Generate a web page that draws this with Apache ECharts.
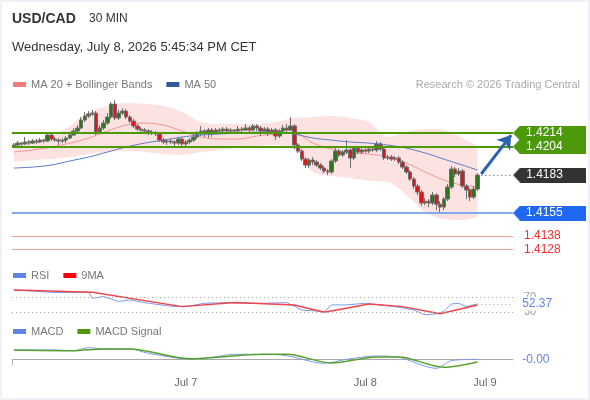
<!DOCTYPE html>
<html>
<head>
<meta charset="utf-8">
<title>USD/CAD 30 MIN</title>
<script src="https://cdn.jsdelivr.net/npm/echarts@6/dist/echarts.min.js"></script>
<style>
  html, body { margin: 0; padding: 0; background: #fff; }
  #chart { position: absolute; left: 0; top: 0; width: 590px; height: 400px; }
  #frame { position: absolute; left: 0; top: 0; width: 586px; height: 396px; border: 2px solid #eef1f5; pointer-events: none; }
</style>
</head>
<body>
<div id="chart"></div>
<div id="frame"></div>
<script>
'use strict';

// x slots (30 min candles + empty room on the right)
const slotCount = 134;
const dayLabels = ['Jul 7', 'Jul 8', 'Jul 9'];
const dayLabelIndex = [46, 94, 126];

// candles: open of each bar = previous close
const firstOpen = 1.42044;
const closes = [
  1.42052,1.42066,1.42059,1.42074,1.42066,1.42081,1.42074,1.42088,1.42081,1.42125,
  1.42096,1.42088,1.42081,1.42088,1.42103,1.42125,1.42155,1.42177,1.42236,1.42265,
  1.42280,1.42287,1.42147,1.42177,1.42214,1.42258,1.42354,1.42251,1.42287,1.42302,
  1.42258,1.42228,1.42192,1.42169,1.42162,1.42155,1.42147,1.42140,1.42133,1.42088,
  1.42074,1.42081,1.42074,1.42066,1.42096,1.42059,1.42074,1.42088,1.42111,1.42133,
  1.42155,1.42140,1.42162,1.42147,1.42162,1.42155,1.42169,1.42155,1.42162,1.42155,
  1.42169,1.42162,1.42177,1.42162,1.42192,1.42177,1.42155,1.42169,1.42147,1.42162,
  1.42118,1.42155,1.42177,1.42162,1.42192,1.42052,1.42007,1.41948,1.41904,1.41941,
  1.41926,1.41904,1.41882,1.41860,1.41853,1.41934,1.42007,1.41978,1.42000,1.42015,
  1.41956,1.42029,1.42000,1.42015,1.42007,1.42022,1.42015,1.42059,1.42022,1.41956,
  1.41963,1.41948,1.41956,1.41926,1.41889,1.41853,1.41801,1.41749,1.41705,1.41624,
  1.41638,1.41624,1.41683,1.41616,1.41594,1.41653,1.41742,1.41875,1.41838,1.41860,
  1.41749,1.41720,1.41668,1.41727,1.41830
];
const highs = [
  1.42066,1.42081,1.42074,1.42111,1.42088,1.42096,1.42096,1.42103,1.42096,1.42140,
  1.42140,1.42111,1.42103,1.42103,1.42118,1.42140,1.42177,1.42199,1.42258,1.42295,
  1.42302,1.42310,1.42302,1.42199,1.42236,1.42287,1.42368,1.42383,1.42310,1.42324,
  1.42317,1.42273,1.42243,1.42206,1.42184,1.42177,1.42169,1.42162,1.42155,1.42147,
  1.42103,1.42096,1.42096,1.42088,1.42111,1.42111,1.42088,1.42103,1.42133,1.42155,
  1.42192,1.42169,1.42177,1.42177,1.42177,1.42177,1.42184,1.42184,1.42177,1.42169,
  1.42192,1.42184,1.42206,1.42192,1.42206,1.42206,1.42192,1.42184,1.42184,1.42177,
  1.42177,1.42169,1.42199,1.42206,1.42258,1.42206,1.42066,1.42022,1.41963,1.41956,
  1.41963,1.41941,1.41919,1.41897,1.41875,1.41948,1.42029,1.42022,1.42015,1.42088,
  1.42029,1.42044,1.42044,1.42029,1.42029,1.42037,1.42037,1.42081,1.42074,1.42037,
  1.41978,1.41978,1.41970,1.41970,1.41941,1.41904,1.41867,1.41815,1.41764,1.41720,
  1.41661,1.41653,1.41705,1.41697,1.41638,1.41668,1.41764,1.41897,1.41889,1.41882,
  1.41875,1.41764,1.41734,1.41749,1.41845
];
const lows = [
  1.42029,1.42044,1.42044,1.42052,1.42052,1.42059,1.42059,1.42066,1.42066,1.42074,
  1.42081,1.42074,1.42052,1.42066,1.42066,1.42096,1.42118,1.42140,1.42169,1.42221,
  1.42251,1.42265,1.42125,1.42133,1.42162,1.42199,1.42243,1.42236,1.42236,1.42273,
  1.42243,1.42214,1.42177,1.42155,1.42133,1.42140,1.42125,1.42125,1.42118,1.42074,
  1.42059,1.42052,1.42059,1.42037,1.42052,1.42037,1.42044,1.42059,1.42074,1.42096,
  1.42118,1.42111,1.42103,1.42111,1.42133,1.42140,1.42140,1.42140,1.42140,1.42140,
  1.42140,1.42147,1.42155,1.42140,1.42155,1.42155,1.42118,1.42140,1.42118,1.42133,
  1.42088,1.42103,1.42140,1.42133,1.42155,1.42022,1.41993,1.41934,1.41882,1.41882,
  1.41904,1.41889,1.41867,1.41845,1.41830,1.41838,1.41919,1.41963,1.41963,1.41985,
  1.41882,1.41941,1.41985,1.41985,1.41993,1.41993,1.42000,1.42000,1.42007,1.41941,
  1.41941,1.41934,1.41934,1.41911,1.41875,1.41838,1.41786,1.41727,1.41683,1.41602,
  1.41609,1.41594,1.41609,1.41572,1.41550,1.41572,1.41638,1.41727,1.41815,1.41823,
  1.41734,1.41653,1.41638,1.41653,1.41712
];

// moving averages / bollinger bands, read every 5 bars
const bandIdx = [0,5,10,15,20,25,30,35,40,45,50,55,60,65,70,75,80,85,90,95,100,105,110,115,120,124];
const ma20 = [1.42000,1.42015,1.42037,1.42066,1.42103,1.42155,1.42199,1.42214,1.42199,1.42155,1.42111,1.42096,1.42096,
  1.42118,1.42133,1.42140,1.42066,1.42022,1.41993,1.41985,1.41963,1.41919,1.41853,1.41793,1.41756,1.41742];
const bbUpper = [1.42066,1.42088,1.42118,1.42192,1.42295,1.42339,1.42361,1.42354,1.42339,1.42295,1.42221,1.42206,1.42206,
  1.42206,1.42221,1.42251,1.42258,1.42265,1.42251,1.42221,1.42111,1.42147,1.42169,1.42162,1.42103,1.42044];
const bbLower = [1.41926,1.41941,1.41948,1.41963,1.41985,1.42000,1.42007,1.42000,1.41985,1.41978,1.42000,1.42015,1.42029,
  1.42044,1.42052,1.42015,1.41853,1.41823,1.41808,1.41786,1.41779,1.41683,1.41557,1.41506,1.41499,1.41521];
const ma50 = [1.41882,1.41889,1.41904,1.41934,1.41963,1.42000,1.42037,1.42066,1.42088,1.42111,1.42125,1.42133,1.42140,
  1.42147,1.42147,1.42133,1.42103,1.42088,1.42074,1.42066,1.42052,1.42029,1.41993,1.41948,1.41904,1.41867];

// levels
const resistLevels = [1.4214, 1.4204];
const supportLevel = 1.4155;
const lowerLevels = [1.4138, 1.4128];
const lastPrice = 1.4183;
const arrowFrom = [125, 1.41838];
const arrowTo = [133, 1.42125];

// RSI panel
const rsiIdx = [0,11,20,21,24,28,31,36,43,47,51,57,61,67,73,77,83,85,89,94,102,107,110,113,115,117,119,121,124];
const rsiVals = [89.6,82.5,83.5,67.4,72,58.6,63,54,45,46.8,54,55.8,54,54,55.8,36,32,49.6,49.6,54,45,36,23,26,32,52,54,45,52.37];
const rsiMaIdx = [0,21,45,59,75,83,95,104,114,124];
const rsiMaVals = [89.6,83.5,45,55.8,49.6,30,52,45,26,49.6];
const rsiBands = [70, 30];
const rsiLast = 52.37;

// MACD panel
const macdIdx = [0,11,16,20,24,31,36,47,53,59,67,73,83,89,97,103,113,117,124];
const macdVals = [0.00009,0.00009,0.000083,0.000113,0.0001,0.0001,0.000057,0,0.000017,0.000047,0.000047,0.000033,
  -0.000043,-0.000003,0.00003,0.000017,-0.000093,-0.000017,-0.000003];
const signalIdx = [0,16,24,31,47,67,73,85,97,103,115,124];
const signalVals = [0.00009,0.000083,0.0001,0.0001,0.000003,0.000047,0.000047,-0.00004,0.00002,0.00002,-0.000083,-0.00003];
const macdLast = -0.000003;

const categories = Array.from({length: slotCount}, (_, i) => String(i));
const candleData = closes.map((c, i) => [i === 0 ? firstOpen : closes[i - 1], c, lows[i], highs[i]]);
const pairs = (idx, vals) => idx.map((x, i) => [x, vals[i]]);

function tagImage(color) {
  const c = document.createElement('canvas');
  c.width = 73; c.height = 15;
  const g = c.getContext('2d');
  g.fillStyle = color;
  g.beginPath();
  g.moveTo(0, 7.5); g.lineTo(7, 0); g.lineTo(73, 0); g.lineTo(73, 15); g.lineTo(7, 15);
  g.closePath();
  g.fill();
  return c;
}

function tagLabel(text, color, dist) {
  return {
    show: true, position: 'end', distance: dist,
    formatter: text, color: '#fff', fontSize: 12,
    backgroundColor: {image: tagImage(color)},
    width: 60, height: 15, lineHeight: 15, padding: [0, 0, 0, 13]
  };
}

function plainLabel(text, color, bg, size) {
  return {
    show: true, position: 'end', distance: 2,
    formatter: text, color: color, fontSize: size || 11,
    backgroundColor: bg || 'transparent',
    lineHeight: 12, padding: [1, 4, 1, 9]
  };
}

const levelLines = [];
resistLevels.forEach(v => {
  levelLines.push({yAxis: v, lineStyle: {color: '#4c9a0a', width: 2, type: 'solid'}, label: tagLabel(v.toFixed(4), '#4c9a0a', 0)});
});
levelLines.push({yAxis: supportLevel, lineStyle: {color: '#86a8f0', width: 2, type: 'solid'},
  label: tagLabel(supportLevel.toFixed(4), '#1f69f2', 0)});
lowerLevels.forEach(v => {
  levelLines.push({yAxis: v, lineStyle: {color: '#f3a0a0', width: 1, type: 'solid'},
    label: plainLabel(v.toFixed(4), '#f03030', null, 12)});
});
levelLines.push([
  {coord: [125, lastPrice], lineStyle: {color: '#555', width: 1, type: [1, 3]}, label: tagLabel(lastPrice.toFixed(4), '#333', 2)},
  {coord: [133, lastPrice]}
]);
levelLines.push([
  {coord: arrowFrom, symbol: 'none', lineStyle: {color: '#2d63ad', width: 3, type: 'solid'}, label: {show: false}},
  {coord: arrowTo, symbol: 'arrow', symbolSize: 13}
]);

const rsiLines = rsiBands.map(v => ({
  yAxis: v, lineStyle: {color: '#aaa', width: 1, type: [1, 3]}, label: plainLabel(String(v), '#999')
}));
rsiLines.push([
  {coord: [125, rsiLast], lineStyle: {color: '#8aa6ea', width: 1, type: [1, 3]}, label: plainLabel(rsiLast.toFixed(2), '#5f86e6', '#fff', 12)},
  {coord: [133, rsiLast]}
]);

const axisBase = {type: 'category', data: categories, boundaryGap: true};
const legendBase = {
  left: 8, icon: 'rect', itemWidth: 13, itemHeight: 5, itemGap: 14, selectedMode: false,
  textStyle: {color: '#777', fontSize: 11}
};

const option = {
  animation: false,
  textStyle: {fontFamily: 'Liberation Sans, Arial, sans-serif'},
  title: [
    {text: 'USD/CAD', left: 7, top: 7, textStyle: {fontSize: 14, fontWeight: 'bold', color: '#333'}},
    {text: '30 MIN', left: 84, top: 8, textStyle: {fontSize: 12, fontWeight: 'normal', color: '#333'}},
    {text: 'Wednesday, July 8, 2026 5:45:34 PM CET', left: 7, top: 36, textStyle: {fontSize: 13, fontWeight: 'normal', color: '#333'}},
    {text: 'Research © 2026 Trading Central', right: 5, top: 74, textStyle: {fontSize: 11, fontWeight: 'normal', color: '#aaa'}}
  ],
  legend: [
    Object.assign({top: 74, data: [
      {name: 'MA 20 + Bollinger Bands', itemStyle: {color: '#f77b7b'}},
      {name: 'MA 50', itemStyle: {color: '#2f5a9e'}}]}, legendBase),
    Object.assign({top: 265, data: [
      {name: 'RSI', itemStyle: {color: '#5f86e6'}},
      {name: '9MA', itemStyle: {color: '#f00'}}]}, legendBase),
    Object.assign({top: 321, data: [
      {name: 'MACD', itemStyle: {color: '#5f86e6'}},
      {name: 'MACD Signal', itemStyle: {color: '#4c9a0a'}}]}, legendBase)
  ],
  grid: [
    {left: 12, right: 77, top: 100.5, height: 156},
    {left: 12, right: 77, top: 286, height: 37.5},
    {left: 12, right: 77, top: 344, height: 28}
  ],
  xAxis: [
    Object.assign({gridIndex: 0, show: false}, axisBase),
    Object.assign({gridIndex: 1, show: false}, axisBase),
    Object.assign({
      gridIndex: 2,
      axisLine: {lineStyle: {color: '#aaa'}},
      axisTick: {show: true, interval: i => i === 0, length: 6, lineStyle: {color: '#aaa'}},
      axisLabel: {
        interval: 0, color: '#666', fontSize: 11, margin: 5,
        formatter: v => {
          const k = dayLabelIndex.indexOf(+v);
          return k >= 0 ? dayLabels[k] : '';
        }
      },
      splitLine: {show: false}
    }, axisBase)
  ],
  yAxis: [
    {gridIndex: 0, min: 1.4123, max: 1.4238, show: false, splitLine: {show: false}},
    {gridIndex: 1, min: 0, max: 100, show: false, splitLine: {show: false}},
    {gridIndex: 2, min: -0.00013, max: 0.00015, show: false, splitLine: {show: false}}
  ],
  series: [
    {
      name: 'bbLower', type: 'line', stack: 'bb', smooth: 0.3, symbol: 'none', silent: true, z: 1,
      lineStyle: {opacity: 0}, data: pairs(bandIdx, bbLower)
    },
    {
      name: 'bbWidth', type: 'line', stack: 'bb', smooth: 0.3, symbol: 'none', silent: true, z: 1,
      lineStyle: {opacity: 0}, areaStyle: {color: '#fde2e2', opacity: 1},
      data: bandIdx.map((x, i) => [x, bbUpper[i] - bbLower[i]])
    },
    {
      name: 'MA 20 + Bollinger Bands', type: 'line', smooth: 0.3, symbol: 'none', z: 2,
      lineStyle: {color: '#f59494', width: 1}, itemStyle: {color: '#f59494'},
      data: pairs(bandIdx, ma20)
    },
    {
      name: 'USD/CAD', type: 'candlestick', z: 3, barWidth: 4,
      itemStyle: {color: '#2f7420', color0: '#e3141c', borderColor: '#6f6f6f', borderColor0: '#6f6f6f', borderWidth: 1},
      data: candleData
    },
    {
      name: 'MA 50', type: 'line', smooth: 0.3, symbol: 'none', z: 4,
      lineStyle: {color: '#5a7cc2', width: 1}, itemStyle: {color: '#5a7cc2'},
      data: pairs(bandIdx, ma50),
      markLine: {silent: true, symbol: 'none', precision: 5, data: levelLines}
    },
    {
      name: 'RSI', type: 'line', xAxisIndex: 1, yAxisIndex: 1, symbol: 'none',
      lineStyle: {color: '#7b9ceb', width: 1}, data: pairs(rsiIdx, rsiVals),
      markLine: {silent: true, symbol: 'none', precision: 2, data: rsiLines}
    },
    {
      name: '9MA', type: 'line', xAxisIndex: 1, yAxisIndex: 1, symbol: 'none',
      lineStyle: {color: '#f0454a', width: 1.5}, data: pairs(rsiMaIdx, rsiMaVals)
    },
    {
      name: 'MACD', type: 'line', xAxisIndex: 2, yAxisIndex: 2, symbol: 'none', smooth: 0.3,
      lineStyle: {color: '#7b9ceb', width: 1}, data: pairs(macdIdx, macdVals),
      markLine: {
        silent: true, symbol: 'none', precision: 7,
        data: [[
          {coord: [125, macdLast], lineStyle: {color: '#8aa6ea', width: 1, type: [1, 3]},
            label: plainLabel(macdLast.toFixed(2), '#5f86e6', '#fff', 12)},
          {coord: [133, macdLast]}
        ]]
      }
    },
    {
      name: 'MACD Signal', type: 'line', xAxisIndex: 2, yAxisIndex: 2, symbol: 'none', smooth: 0.3,
      lineStyle: {color: '#5aa02c', width: 1.5}, data: pairs(signalIdx, signalVals)
    }
  ]
};

const chart = echarts.init(document.getElementById('chart'));
chart.setOption(option);
</script>
</body>
</html>
